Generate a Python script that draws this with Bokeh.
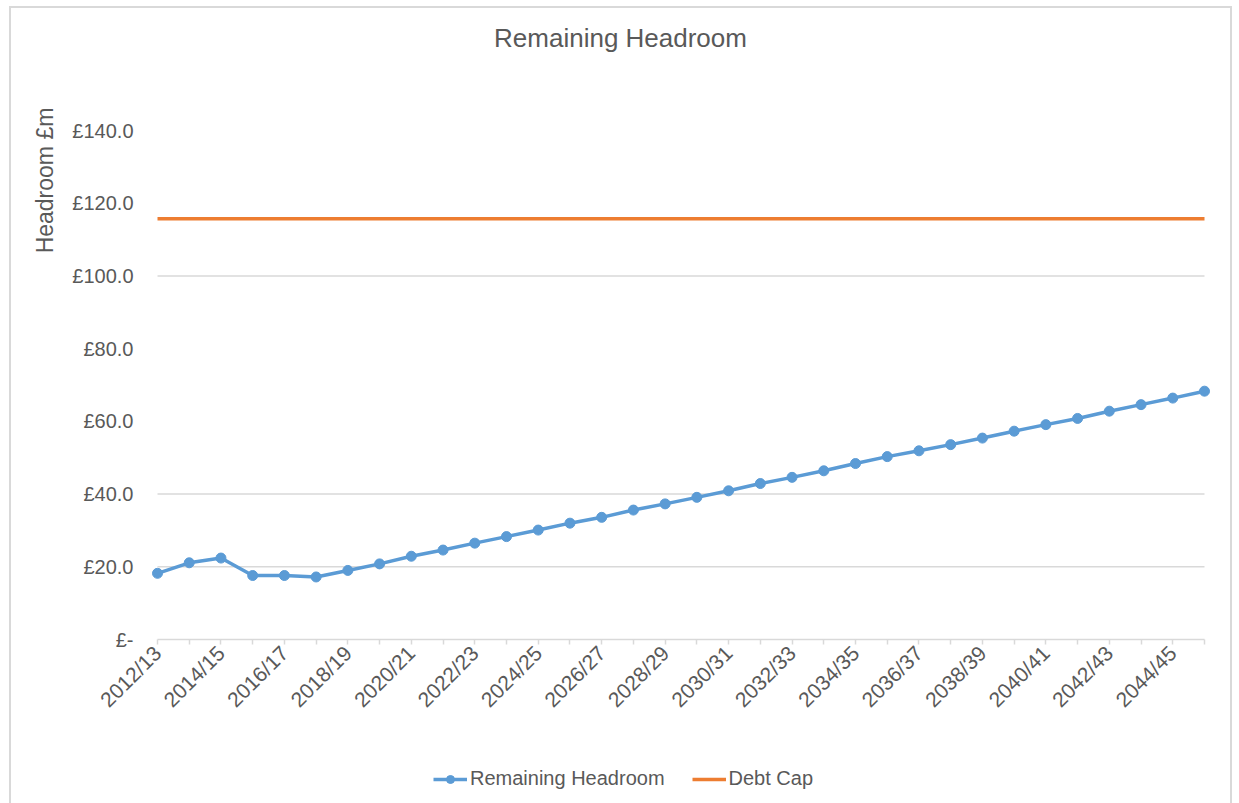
import math
from bokeh.plotting import figure
from bokeh.models import (FixedTicker, Legend, LegendItem, Range1d, ColumnDataSource, Label)
from bokeh.embed import file_html
from bokeh.resources import INLINE

# ---------------- data ----------------
categories = [
    "2012/13", "2013/14", "2014/15", "2015/16", "2016/17", "2017/18", "2018/19",
    "2019/20", "2020/21", "2021/22", "2022/23", "2023/24", "2024/25", "2025/26",
    "2026/27", "2027/28", "2028/29", "2029/30", "2030/31", "2031/32", "2032/33",
    "2033/34", "2034/35", "2035/36", "2036/37", "2037/38", "2038/39", "2039/40",
    "2040/41", "2041/42", "2042/43", "2043/44", "2044/45", "2045/46",
]
remaining_headroom = [
    18.2, 21.1, 22.4, 17.6, 17.6, 17.2, 19.0, 20.8, 22.9, 24.6, 26.5, 28.3,
    30.1, 32.0, 33.6, 35.6, 37.3, 39.1, 40.9, 42.9, 44.6, 46.4, 48.4, 50.3,
    51.9, 53.6, 55.4, 57.3, 59.1, 60.8, 62.8, 64.6, 66.4, 68.3,
]
debt_cap = [
    115.7, 115.7, 115.7, 115.7, 115.7, 115.7, 115.7, 115.7, 115.7, 115.7, 115.7,
    115.7, 115.7, 115.7, 115.7, 115.7, 115.7, 115.7, 115.7, 115.7, 115.7, 115.7,
    115.7, 115.7, 115.7, 115.7, 115.7, 115.7, 115.7, 115.7, 115.7, 115.7, 115.7,
    115.7,
]
y_ticks = [0, 20, 40, 60, 80, 100, 120, 140]
y_tick_labels = ["£-", "£20.0", "£40.0", "£60.0", "£80.0", "£100.0", "£120.0", "£140.0"]
visible_gridlines = [20, 40, 100]
title_text = "Remaining Headroom"
y_title = "Headroom £m"
series_names = ["Remaining Headroom", "Debt Cap"]

# ---------------- layout constants (pixels) ----------------
FONT = "Liberation Sans"
GREY = "#595959"
GRID = "#D9D9D9"
BLUE = "#5B9BD5"
ORANGE = "#ED7D31"

FIG_W, FIG_H = 1223, 800
CANVAS_LEFT, CANVAS_TOP = 11, 8          # window position of the canvas origin
PLOT_LEFT_PX, PLOT_RIGHT_PX = 157, 1204  # window x of first / last category
PLOT_TOP_PX, PLOT_BOTTOM_PX = 130, 639   # window y of value 140 and value 0
Y_MAX = 140
N = len(categories)

y_ppu = (PLOT_BOTTOM_PX - PLOT_TOP_PX) / Y_MAX
x_ppu = (PLOT_RIGHT_PX - PLOT_LEFT_PX) / (N - 1)
frame_bottom_px = CANVAS_TOP + FIG_H
frame_right_px = CANVAS_LEFT + FIG_W
y_start = -(frame_bottom_px - PLOT_BOTTOM_PX) / y_ppu
y_end = Y_MAX + (PLOT_TOP_PX - CANVAS_TOP) / y_ppu
x_start = -(PLOT_LEFT_PX - CANVAS_LEFT) / x_ppu
x_end = (N - 1) + (frame_right_px - PLOT_RIGHT_PX) / x_ppu


def wx(px):
    return (px - PLOT_LEFT_PX) / x_ppu


def wy(py):
    return (PLOT_BOTTOM_PX - py) / y_ppu


idx = list(range(N))
src = ColumnDataSource(dict(x=idx, headroom=remaining_headroom, cap=debt_cap))

p = figure(
    width=FIG_W, height=FIG_H,
    x_range=Range1d(x_start, x_end), y_range=Range1d(y_start, y_end),
    output_backend="svg", toolbar_location=None,
    min_border_left=0, min_border_right=0, min_border_top=0, min_border_bottom=0,
)
p.margin = (6, 0, 0, 9)
p.styles = {"border": "2px solid #D9D9D9"}
p.outline_line_color = None
p.background_fill_color = "white"
p.border_fill_color = "white"
p.title.text = ""

# category axis, drawn at value 0
p.xaxis.fixed_location = 0
p.xaxis.bounds = (0, N - 1)
p.xaxis.ticker = FixedTicker(ticks=idx)
p.xaxis.major_label_overrides = {i: (categories[i] if i % 2 == 0 else "") for i in idx}
p.xaxis.major_label_orientation = math.pi / 4
p.xaxis.major_label_text_font = FONT
p.xaxis.major_label_text_font_size = "21px"
p.xaxis.major_label_text_color = GREY
p.xaxis.axis_line_color = GRID
p.xaxis.axis_line_width = 1.5
p.xaxis.major_tick_line_color = GRID
p.xaxis.major_tick_line_width = 1.5
p.xaxis.major_tick_out = 5
p.xaxis.major_tick_in = 0
p.xaxis.minor_tick_line_color = None
p.xaxis.major_label_standoff = 5

# value axis, drawn at the first category
p.yaxis.fixed_location = 0
p.yaxis.bounds = (0, Y_MAX)
p.yaxis.ticker = FixedTicker(ticks=y_ticks)
p.yaxis.major_label_overrides = {t: l for t, l in zip(y_ticks, y_tick_labels)}
p.yaxis.major_label_text_font = FONT
p.yaxis.major_label_text_font_size = "20px"
p.yaxis.major_label_text_color = GREY
p.yaxis.axis_line_color = None
p.yaxis.major_tick_line_color = None
p.yaxis.minor_tick_line_color = None
p.yaxis.major_tick_out = 0
p.yaxis.major_label_standoff = 24

# horizontal gridlines limited to the category span
p.xgrid.grid_line_color = None
p.ygrid.grid_line_color = None
p.segment(x0=[0] * len(visible_gridlines), x1=[N - 1] * len(visible_gridlines),
          y0=visible_gridlines, y1=visible_gridlines,
          line_color=GRID, line_width=1.5)

# series
r_cap = p.line("x", "cap", source=src, line_color=ORANGE, line_width=3.5)
r_line = p.line("x", "headroom", source=src, line_color=BLUE, line_width=3.5)
r_mark = p.scatter("x", "headroom", source=src, size=10, fill_color=BLUE, line_color=BLUE)

# chart title
p.add_layout(Label(x=wx(620), y=wy(37), text=title_text, text_align="center",
                   text_baseline="middle", text_font=FONT, text_font_size="26px",
                   text_color=GREY))

# value-axis title
p.add_layout(Label(x=wx(44), y=wy(180), text=y_title, angle=math.pi / 2,
                   text_align="center", text_baseline="middle", text_font=FONT,
                   text_font_size="23px", text_color=GREY))

# legend below the category labels
legend = Legend(
    items=[LegendItem(label=series_names[0], renderers=[r_line, r_mark]),
           LegendItem(label=series_names[1], renderers=[r_cap])],
    orientation="horizontal",
    location=(433 - CANVAS_LEFT, frame_bottom_px - 790),
    glyph_width=34, glyph_height=20, label_height=20, label_standoff=3, spacing=27,
    padding=0, margin=0, border_line_color=None, background_fill_alpha=0,
    label_text_font=FONT, label_text_font_size="20px", label_text_color=GREY,
)
p.add_layout(legend)

open("out.html", "w").write(file_html(p, INLINE))
